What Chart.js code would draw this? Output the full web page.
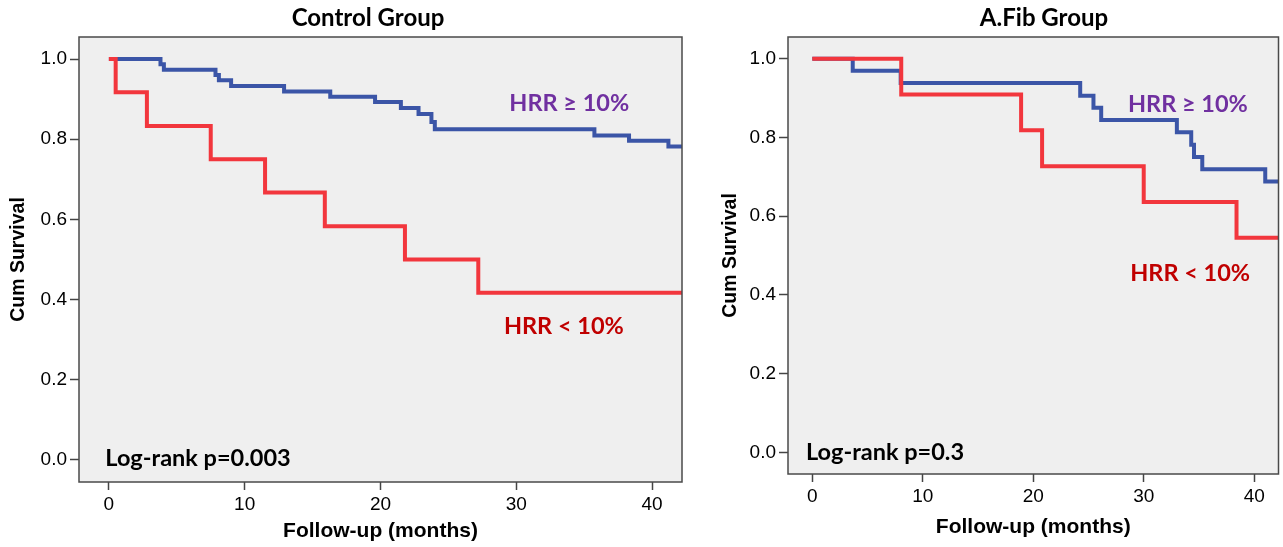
<!DOCTYPE html>
<html><head><meta charset="utf-8">
<script src="https://cdn.jsdelivr.net/npm/chart.js@4/dist/chart.umd.min.js"></script>
<style>
html,body{margin:0;padding:0;background:#fff;}
body{width:1283px;height:547px;position:relative;overflow:hidden;}
.box{position:absolute;top:0;height:547px;}
</style></head><body>
<div class="box" style="left:0;width:700px"><canvas id="c1" width="700" height="547"></canvas></div>
<div class="box" style="left:700px;width:583px"><canvas id="c2" width="583" height="547"></canvas></div>
<script>
// ---- data ----
const xTicks = [0, 10, 20, 30, 40];
const yTicks = [0, 0.2, 0.4, 0.6, 0.8, 1.0];
const yTickLabels = ['0.0', '0.2', '0.4', '0.6', '0.8', '1.0'];
const seriesNames = ['HRR ≥ 10%', 'HRR < 10%'];
const panelTitles = ['Control Group', 'A.Fib Group'];
const pValueLabels = ['Log-rank p=0.003', 'Log-rank p=0.3'];

// Control group
const ctrlHighT = [0, 3.8, 4.05, 7.85, 8.1, 9.0, 12.9, 16.3, 19.6, 21.5, 22.8, 23.75, 24.0, 35.75, 38.3, 41.2, 42.2];
const ctrlHighS = [1, 0.987, 0.973, 0.960, 0.947, 0.933, 0.919, 0.906, 0.893, 0.878, 0.863, 0.843, 0.825, 0.809, 0.796, 0.782, 0.782];
const ctrlLowT = [0, 0.5, 2.8, 7.5, 11.5, 15.9, 21.8, 27.2, 42.2];
const ctrlLowS = [1, 0.917, 0.833, 0.750, 0.667, 0.583, 0.500, 0.417, 0.417];
// A.Fib group
const afibHighT = [0, 3.66, 8.0, 24.25, 25.45, 26.15, 33.0, 34.3, 34.55, 35.3, 41.0, 42.2];
const afibHighS = [1, 0.969, 0.938, 0.906, 0.875, 0.844, 0.813, 0.781, 0.750, 0.719, 0.688, 0.688];
const afibLowT = [0, 8.05, 18.9, 20.8, 30.0, 38.4, 42.2];
const afibLowS = [1, 0.909, 0.818, 0.727, 0.636, 0.545, 0.545];

// ---- styles ----
const BLUE = '#3b55a7';
const RED = '#f2363d';
const PURPLE = '#7030a0';
const DARKRED = '#c00000';
const AXISFONT = "'Liberation Sans', Arial, sans-serif";
const ANNFONT = "Lato, 'Open Sans', sans-serif";

const framePlugin = {
  id: 'frame',
  beforeDraw(chart) {
    const a = chart.chartArea, ctx = chart.ctx;
    ctx.save();
    ctx.fillStyle = '#efefef';
    ctx.fillRect(a.left, a.top, a.right - a.left, a.bottom - a.top);
    ctx.restore();
  },
  afterDraw(chart) {
    const a = chart.chartArea, ctx = chart.ctx;
    ctx.save();
    ctx.strokeStyle = '#4a4a4a';
    ctx.lineWidth = 1.5;
    ctx.strokeRect(a.left, a.top, a.right - a.left, a.bottom - a.top);
    ctx.restore();
  }
};

const textPlugin = {
  id: 'texts',
  afterDraw(chart, args, opts) {
    const ctx = chart.ctx, xs = chart.scales.x, ys = chart.scales.y;
    ctx.save();
    (opts.items || []).forEach(it => {
      ctx.font = it.font;
      ctx.fillStyle = it.color;
      ctx.textAlign = it.align || 'center';
      ctx.textBaseline = 'middle';
      const px = it.px !== undefined ? it.px : xs.getPixelForValue(it.x);
      const py = it.py !== undefined ? it.py : ys.getPixelForValue(it.y);
      ctx.fillText(it.text, px, py);
    });
    ctx.restore();
  }
};

function pts(T, S) { return T.map((t, i) => ({x: t, y: S[i]})); }

function makeChart(id, c) {
  return new Chart(document.getElementById(id), {
    type: 'line',
    data: {datasets: [
      {label: seriesNames[1], data: pts(c.lowT, c.lowS), borderColor: RED, borderWidth: 4, stepped: 'before', pointRadius: 0, fill: false, clip: 0},
      {label: seriesNames[0], data: pts(c.highT, c.highS), borderColor: BLUE, borderWidth: 4, stepped: 'before', pointRadius: 0, fill: false, clip: 0}
    ]},
    options: {
      responsive: false, animation: false, devicePixelRatio: 1,
      layout: {padding: {top: c.top, right: c.right, left: 0, bottom: 0}},
      plugins: {
        legend: {display: false}, tooltip: {enabled: false}, title: {display: false},
        texts: {items: c.texts}
      },
      scales: {
        x: {
          type: 'linear', min: -2.2, max: 42.2,
          afterBuildTicks: s => { s.ticks = xTicks.map(v => ({value: v})); },
          afterFit: s => { s.height = c.xh; },
          grid: {display: true, drawOnChartArea: false, drawTicks: true, tickLength: 8, tickColor: '#444', tickWidth: 1.5},
          border: {display: false},
          ticks: {font: {family: AXISFONT, size: 19}, color: '#000', padding: 3, maxRotation: 0, autoSkip: false},
          title: {display: true, text: 'Follow-up (months)', font: {family: AXISFONT, size: 21, weight: 'bold'}, color: '#000', padding: {top: 0, bottom: c.xtpad}}
        },
        y: {
          type: 'linear', min: -0.055, max: 1.055,
          afterBuildTicks: s => { s.ticks = yTicks.map(v => ({value: v})); },
          afterFit: s => { s.width = c.yw; },
          grid: {display: true, drawOnChartArea: false, drawTicks: true, tickLength: 9, tickColor: '#444', tickWidth: 1.5},
          border: {display: false},
          ticks: {font: {family: AXISFONT, size: 19}, color: '#000', padding: 3,
                  callback: (v) => yTickLabels[yTicks.indexOf(v)]},
          title: {display: true, text: 'Cum Survival', font: {family: AXISFONT, size: 19.5, weight: 'bold'}, color: '#000', padding: {top: c.ytpad, bottom: 0}}
        }
      }
    },
    plugins: [framePlugin, textPlugin]
  });
}

makeChart('c1', {
  highT: ctrlHighT, highS: ctrlHighS, lowT: ctrlLowT, lowS: ctrlLowS,
  top: 37, right: 18, yw: 79, xh: 65, xtpad: 3, ytpad: 7,
  texts: [
    {text: panelTitles[0], px: 368, py: 18, font: "bold 24px " + ANNFONT, color: '#000'},
    {text: seriesNames[0], x: 33.9, y: 0.89, font: "bold 23.5px " + ANNFONT, color: PURPLE},
    {text: seriesNames[1], x: 33.5, y: 0.3325, font: "bold 23.5px " + ANNFONT, color: DARKRED},
    {text: pValueLabels[0], x: -0.26, y: 0.005, align: 'left', font: "bold 23.5px " + ANNFONT, color: '#000'}
  ]
});
makeChart('c2', {
  highT: afibHighT, highS: afibHighS, lowT: afibLowT, lowS: afibLowS,
  top: 37, right: 4.5, yw: 88, xh: 73, xtpad: 7, ytpad: 19,
  texts: [
    {text: panelTitles[1], px: 344, py: 18, font: "bold 24px " + ANNFONT, color: '#000'},
    {text: seriesNames[0], x: 34.0, y: 0.884, font: "bold 23.5px " + ANNFONT, color: PURPLE},
    {text: seriesNames[1], x: 34.2, y: 0.454, font: "bold 23.5px " + ANNFONT, color: DARKRED},
    {text: pValueLabels[1], x: -0.57, y: 0.0, align: 'left', font: "bold 23.5px " + ANNFONT, color: '#000'}
  ]
});
</script>
</body></html>
